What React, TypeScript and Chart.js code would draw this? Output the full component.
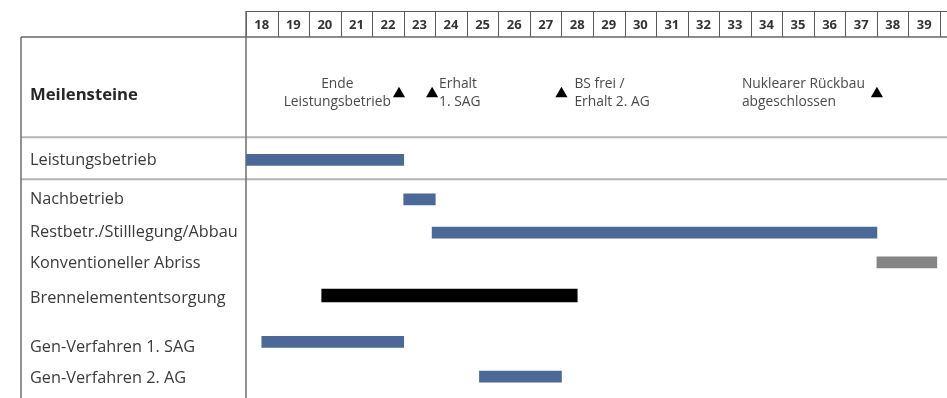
import { useEffect, useRef } from 'react';
import { Chart, registerables } from 'chart.js';

Chart.register(...registerables);

// ---------- data ----------
const yearTicks = [18, 19, 20, 21, 22, 23, 24, 25, 26, 27, 28, 29, 30, 31, 32, 33, 34, 35, 36, 37, 38, 39];
const milestoneRowLabel = 'Meilensteine';
const taskNames = [
  'Leistungsbetrieb',
  'Nachbetrieb',
  'Restbetr./Stilllegung/Abbau',
  'Konventioneller Abriss',
  'Brennelemententsorgung',
  'Gen-Verfahren 1. SAG',
  'Gen-Verfahren 2. AG',
];
const taskStart = [18, 23, 23.9, 38, 20.4, 18.5, 25.4];
const taskEnd = [23, 24, 38, 39.9, 28.5, 23, 28];
const taskKind = ['plan', 'plan', 'plan', 'demolition', 'fuel', 'plan', 'plan'];
const milestoneYears = [22.85, 23.9, 28, 38];
const milestoneTexts = [
  ['Ende', 'Leistungsbetrieb'],
  ['Erhalt', '1. SAG'],
  ['BS frei /', 'Erhalt 2. AG'],
  ['Nuklearer Rückbau', 'abgeschlossen'],
];

// ---------- layout / style ----------
const W = 947;
const H = 398;
const X_MIN = 18;
const X_MAX = 40;
const Y_MAX = 10.6;
const milestoneLane = 1.7;
const taskLanes = [3.68, 4.86, 5.86, 6.75, 7.74, 9.13, 10.17];
const labelNudgePx = [0, 0, 0, 1, 3, 5, 2];
const separatorLanes = [3.0, 4.26];
const milestoneSide = ['left', 'right', 'right', 'left'];
const milestoneAlign = ['center', 'left', 'left', 'left'];
const milestoneGap = [8, 7, 13, 12];
const kindColor: Record<string, string> = {
  plan: '#4a6898',
  demolition: '#858585',
  fuel: '#000000',
};
const FONT = '"Open Sans", "Noto Sans", sans-serif';
const TABLE_LEFT = 21;
const HEADER_TOP = 11;

const tablePlugin = {
  id: 'ganttTable',
  beforeDatasetsDraw(chart: any) {
    const { ctx, chartArea, scales } = chart;
    const xs = scales.x;
    const ys = scales.y;
    ctx.save();
    // header cells
    ctx.strokeStyle = '#5a5a5a';
    ctx.lineWidth = 1;
    const hb = chartArea.top;
    ctx.beginPath();
    ctx.moveTo(chartArea.left, HEADER_TOP + 0.5);
    ctx.lineTo(W, HEADER_TOP + 0.5);
    ctx.stroke();
    for (let i = 0; i <= yearTicks.length; i++) {
      const v = i < yearTicks.length ? yearTicks[i] : yearTicks[yearTicks.length - 1] + 1;
      const px = Math.round(xs.getPixelForValue(v)) + 0.5;
      ctx.beginPath();
      ctx.moveTo(px, HEADER_TOP);
      ctx.lineTo(px, hb);
      ctx.stroke();
    }
    ctx.fillStyle = '#333333';
    ctx.font = `bold 13px ${FONT}`;
    ctx.textAlign = 'center';
    ctx.textBaseline = 'middle';
    yearTicks.forEach((v) => {
      const cx = (xs.getPixelForValue(v) + xs.getPixelForValue(v + 1)) / 2;
      ctx.fillText(String(v), cx, (HEADER_TOP + hb) / 2 + 1);
    });
    // top line of table
    ctx.strokeStyle = '#666666';
    ctx.lineWidth = 1.5;
    ctx.beginPath();
    ctx.moveTo(TABLE_LEFT, hb);
    ctx.lineTo(W, hb);
    ctx.stroke();
    // separators
    ctx.strokeStyle = '#b4b4b4';
    ctx.lineWidth = 2;
    separatorLanes.forEach((l) => {
      const py = ys.getPixelForValue(l);
      ctx.beginPath();
      ctx.moveTo(TABLE_LEFT, py);
      ctx.lineTo(W, py);
      ctx.stroke();
    });
    // vertical lines
    ctx.strokeStyle = '#6e6e6e';
    ctx.lineWidth = 1.5;
    ctx.beginPath();
    ctx.moveTo(TABLE_LEFT, hb);
    ctx.lineTo(TABLE_LEFT, H);
    ctx.stroke();
    ctx.beginPath();
    ctx.moveTo(chartArea.left, HEADER_TOP);
    ctx.lineTo(chartArea.left, H);
    ctx.stroke();

    // row labels
    ctx.textAlign = 'left';
    ctx.textBaseline = 'middle';
    ctx.fillStyle = '#262626';
    ctx.font = `bold 16.7px ${FONT}`;
    ctx.fillText(milestoneRowLabel, 30, ys.getPixelForValue(milestoneLane) + 1);
    ctx.fillStyle = '#3a3a3a';
    ctx.font = `16.3px ${FONT}`;
    taskNames.forEach((n, i) => {
      ctx.fillText(n, 30, ys.getPixelForValue(taskLanes[i]) + labelNudgePx[i]);
    });

    // milestone labels
    ctx.fillStyle = '#4a4a4a';
    ctx.font = `13.8px ${FONT}`;
    milestoneYears.forEach((m, i) => {
      const px = xs.getPixelForValue(m);
      const py = ys.getPixelForValue(milestoneLane);
      const lines = milestoneTexts[i];
      const w = Math.max(...lines.map((t) => ctx.measureText(t).width));
      const left = milestoneSide[i] === 'left' ? px - milestoneGap[i] - w : px + milestoneGap[i];
      lines.forEach((t, j) => {
        const ly = py - 10 + j * 18;
        if (milestoneAlign[i] === 'center') {
          ctx.textAlign = 'center';
          ctx.fillText(t, left + w / 2, ly);
        } else {
          ctx.textAlign = 'left';
          ctx.fillText(t, left, ly);
        }
      });
    });
    ctx.restore();
  },
};

export default function App() {
  const ref = useRef<HTMLCanvasElement>(null);
  useEffect(() => {
    if (!ref.current) return;
    const mainIdx = taskNames.map((_, i) => i).filter((i) => taskKind[i] !== 'fuel');
    const fuelIdx = taskNames.map((_, i) => i).filter((i) => taskKind[i] === 'fuel');
    const chart = new Chart(ref.current, {
      type: 'bar',
      data: {
        datasets: [
          {
            type: 'bar',
            label: 'Phasen',
            indexAxis: 'y',
            grouped: false,
            barThickness: 11,
            data: mainIdx.map((i) => ({ x: [taskStart[i], taskEnd[i]], y: taskLanes[i] })),
            backgroundColor: mainIdx.map((i) => kindColor[taskKind[i]]),
            borderWidth: 0,
          } as any,
          {
            type: 'bar',
            label: 'Brennelemente',
            indexAxis: 'y',
            grouped: false,
            barThickness: 13,
            data: fuelIdx.map((i) => ({ x: [taskStart[i], taskEnd[i]], y: taskLanes[i] })),
            backgroundColor: fuelIdx.map((i) => kindColor[taskKind[i]]),
            borderWidth: 0,
          } as any,
          {
            type: 'scatter',
            label: 'Meilensteine',
            data: milestoneYears.map((m) => ({ x: m, y: milestoneLane })),
            pointStyle: 'triangle',
            radius: 7,
            backgroundColor: '#000000',
            borderColor: '#000000',
            borderWidth: 0,
          } as any,
        ],
      },
      options: {
        animation: false,
        responsive: false,
        devicePixelRatio: 1,
        layout: { padding: { left: 246, right: W - 942, top: 37, bottom: 0 } },
        plugins: { legend: { display: false }, tooltip: { enabled: false } },
        scales: {
          x: { type: 'linear', min: X_MIN, max: X_MAX, offset: false, grace: 0, display: false },
          y: { type: 'linear', min: 0, max: Y_MAX, offset: false, grace: 0, reverse: true, display: false },
        },
      },
      plugins: [tablePlugin],
    });
    return () => chart.destroy();
  }, []);
  return (
    <div style={{ position: 'absolute', left: 0, top: 0, width: W, height: H, background: '#fff' }}>
      <canvas ref={ref} width={W} height={H} style={{ display: 'block', width: W, height: H }} />
    </div>
  );
}
